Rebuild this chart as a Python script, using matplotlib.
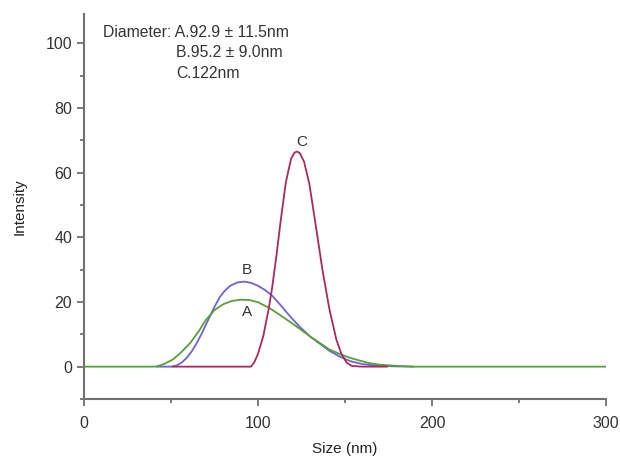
import matplotlib
matplotlib.use("Agg")
import matplotlib.pyplot as plt
from matplotlib.ticker import MultipleLocator

plt.rcParams['font.family'] = ['Liberation Sans', 'DejaVu Sans']

# A (green)
size_a = [0, 40, 42, 46, 51, 56, 61, 66, 70, 75, 80, 85, 90, 95, 100, 106,
          112, 118, 124, 130, 135, 141, 147, 153, 159, 164, 170, 178, 185, 190, 300]
int_a = [0, 0, 0.1, 0.8, 2.2, 4.5, 7.3, 11.0, 14.4, 17.5, 19.3, 20.3, 20.7, 20.6, 19.9, 18.3,
         16.2, 14.0, 11.7, 9.3, 7.5, 5.3, 3.9, 2.7, 1.8, 1.1, 0.6, 0.3, 0.1, 0, 0]

# B (blue)
size_b = [42, 50, 53, 56, 59, 62, 65, 68, 72, 75, 78, 81, 84, 88, 92, 96, 100,
          104, 108, 113, 118, 124, 130, 136, 141, 147, 153, 160, 168, 178, 189]
int_b = [0, 0, 0.3, 1.2, 2.7, 4.8, 7.5, 10.6, 15.2, 18.5, 21.5, 23.5, 25.0, 26.0, 26.3, 25.9, 25.0,
         23.7, 22.0, 19.0, 15.8, 12.3, 9.3, 6.9, 4.9, 3.1, 1.7, 0.8, 0.3, 0.1, 0]

# C (red)
size_c = [51, 96, 98, 100, 103, 106, 108, 110.5, 113, 116, 119, 121, 122.5, 124,
          126.5, 129.5, 133.5, 137, 141, 145, 148, 151, 154, 160, 174]
int_c = [0, 0, 1.5, 4.0, 9.4, 17.5, 24.0, 34.0, 45.0, 57.0, 64.3, 66.2, 66.5, 66.0,
         63.3, 56.5, 42.5, 30.0, 17.8, 8.4, 3.8, 1.2, 0.2, 0, 0]

x_ticks = [0, 100, 200, 300]
y_ticks = [0, 20, 40, 60, 80, 100]
diam_text = ["Diameter: A.92.9 \u00b1 11.5nm", "B.95.2 \u00b1 9.0nm", "C.122nm"]

fig = plt.figure(figsize=(6.2, 4.61), dpi=100)
ax = fig.add_axes([0.1355, 0.1345, 0.842, 0.835])

ax.plot(size_a, int_a, color='#5a9e3a', lw=1.3, zorder=3)
ax.plot(size_b, int_b, color='#6f62d6', lw=1.3, zorder=2)
ax.plot(size_c, int_c, color='#a82a5c', lw=1.3, zorder=4)

ax.set_xlim(0, 300)
ax.set_ylim(-10, 109)
ax.set_xticks(x_ticks)
ax.set_yticks(y_ticks)
ax.xaxis.set_minor_locator(MultipleLocator(50))
ax.yaxis.set_minor_locator(MultipleLocator(10))

gray = '#707070'
for side in ['top', 'right']:
    ax.spines[side].set_visible(False)
for side in ['left', 'bottom']:
    ax.spines[side].set_color(gray)
    ax.spines[side].set_linewidth(1.5)
ax.tick_params(which='both', direction='out', color=gray, width=1.3)
ax.tick_params(which='major', length=5, labelsize=11.5, labelcolor='#333333')
ax.tick_params(which='minor', length=3)
ax.tick_params(axis='x', pad=7)

ax.set_xlabel("Size (nm)", fontsize=11, color='#222222', labelpad=8)
ax.set_ylabel("Intensity", fontsize=11, color='#222222', labelpad=14)

ax.text(0.036, 0.972, diam_text[0], transform=ax.transAxes, fontsize=11.3, color='#333333', va='top')
ax.text(0.176, 0.92, diam_text[1], transform=ax.transAxes, fontsize=11.3, color='#333333', va='top')
ax.text(0.176, 0.866, diam_text[2], transform=ax.transAxes, fontsize=11.3, color='#333333', va='top')

ax.text(125, 69.5, "C", fontsize=11, color='#333333', ha='center', va='center')
ax.text(93.5, 30, "B", fontsize=11, color='#333333', ha='center', va='center')
ax.text(93.5, 17, "A", fontsize=11, color='#333333', ha='center', va='center')

fig.savefig("out.png", dpi=100)
